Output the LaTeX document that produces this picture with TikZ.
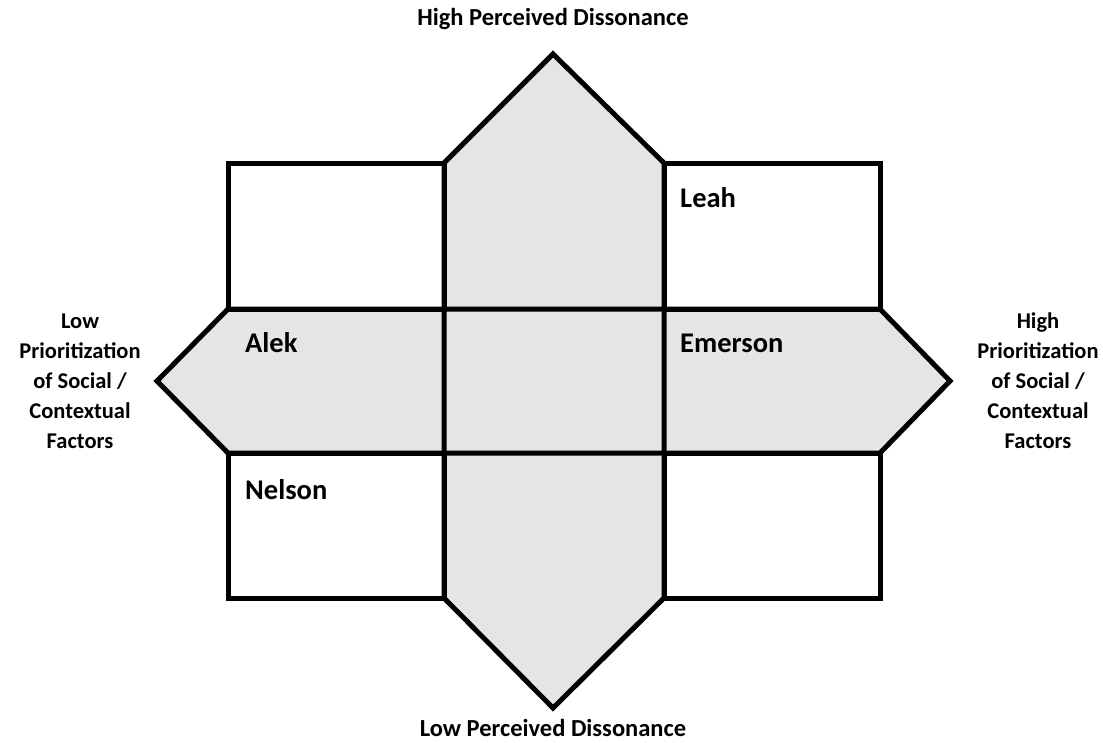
\documentclass[tikz,border=0pt]{standalone}
\usepackage{fontspec}
\setmainfont{Carlito}
\begin{document}
\begin{tikzpicture}[x=1pt, y=-1pt,
  every node/.style = {font=\bfseries\fontsize{22.5}{30}\selectfont, inner sep=0pt},
  axis/.style = {align=center},
  title/.style = {font=\bfseries\fontsize{24.5}{30}\selectfont},
  person/.style = {anchor=west, font=\bfseries\fontsize{28.5}{32}\selectfont},
  cell/.style = {draw, line width=5pt, line join=miter},
  band/.style = {fill=gray!20}]
  \useasboundingbox (0,0) rectangle (1103,742);
  % the two shaded arrows
  \fill[band] (444,163) -- (553,54) -- (664,163) -- (664,598) -- (553,708) -- (444,598) -- cycle;
  \fill[band] (228,309) -- (880,309) -- (950,381) -- (880,453) -- (228,453) -- (157,381) -- cycle;
  \draw[cell] (444,163) -- (553,54) -- (664,163) -- (664,598) -- (553,708) -- (444,598) -- cycle;
  \draw[cell] (228,309) -- (880,309) -- (950,381) -- (880,453) -- (228,453) -- (157,381) -- cycle;
  % corner cells
  \draw[cell] (228,163) rectangle (444,309);
  \draw[cell] (664,163) rectangle (880,309);
  \draw[cell] (228,453) rectangle (444,598);
  \draw[cell] (664,453) rectangle (880,598);
  % axis labels
  \node[axis, title] (high) at (553,19) {High Perceived Dissonance};
  \node[axis, title] (low) at (553,728) {Low Perceived Dissonance};
  \node[axis] (left) at (80,381) {Low\\Prioritization\\of Social /\\Contextual\\Factors};
  \node[axis] (right) at (1038,381) {High\\Prioritization\\of Social /\\Contextual\\Factors};
  % participants
  \node[person] (leah) at (680,198) {Leah};
  \node[person] (alek) at (245,343) {Alek};
  \node[person] (emerson) at (680,343) {Emerson};
  \node[person] (nelson) at (245,490) {Nelson};
\end{tikzpicture}
\end{document}
